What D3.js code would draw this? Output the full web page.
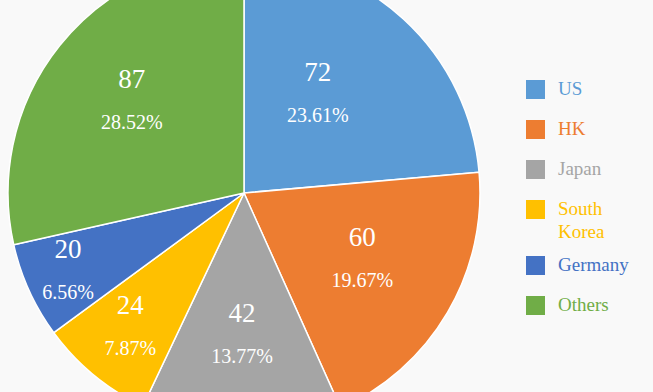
<!DOCTYPE html>
<html><head><meta charset="utf-8">
<script src="https://cdn.jsdelivr.net/npm/d3@7/dist/d3.min.js"></script>
<style>html,body{margin:0;padding:0;background:#f9f9f9;overflow:hidden}
text{font-family:"Liberation Serif","Times New Roman",Tinos,"DejaVu Serif","Noto Serif",FreeSerif,serif}</style>
</head><body><svg id="c" width="653" height="392"></svg>
<script>
const categories = ["US","HK","Japan","South Korea","Germany","Others"];
const values = [72,60,42,24,20,87];
const colors = ["#5B9BD5","#ED7D31","#A5A5A5","#FFC000","#4472C4","#70AD47"];

const W=653,H=392, cx=244, cy=193, R=236;
const labelDist=[124,135,141,175,192,146];
const labelAngleAdj=[-6,-1.6,0.2,1,0.9,1.1];
const svg=d3.select("#c");
svg.append("rect").attr("width",W).attr("height",H).attr("fill","#f9f9f9");
const total=d3.sum(values);
const pie=d3.pie().sort(null).value(d=>d)(values);
const arc=d3.arc().innerRadius(0).outerRadius(R);
const g=svg.append("g").attr("transform",`translate(${cx},${cy})`);
g.selectAll("path").data(pie).join("path").attr("d",arc)
 .attr("fill",(d,i)=>colors[i]).attr("stroke","#fff").attr("stroke-width",1.5).attr("stroke-linejoin","round");
pie.forEach((d,i)=>{
  const a=(d.startAngle+d.endAngle)/2+labelAngleAdj[i]*Math.PI/180;
  const x=Math.sin(a)*labelDist[i], y=-Math.cos(a)*labelDist[i];
  g.append("text").attr("x",x).attr("y",y-21).attr("text-anchor","middle").attr("dominant-baseline","central")
   .attr("fill","#fff").attr("font-size",27).text(values[i]);
  g.append("text").attr("x",x).attr("y",y+22).attr("text-anchor","middle").attr("dominant-baseline","central")
   .attr("fill","#fff").attr("font-size",20).text((values[i]/total*100).toFixed(2)+"%");
});
// legend
let ly=80;
categories.forEach((c,i)=>{
  const words=c.split(" ");
  const lines=words.length>1?words:[c];
  svg.append("rect").attr("x",526).attr("y",ly).attr("width",19).attr("height",19).attr("fill",colors[i]);
  const t=svg.append("text").attr("x",558).attr("y",ly+15).attr("fill",colors[i]).attr("font-size",19);
  lines.forEach((l,j)=>t.append("tspan").attr("x",558).attr("dy",j?23:0).text(l));
  ly+=40+(lines.length-1)*16;
});
</script></body></html>
